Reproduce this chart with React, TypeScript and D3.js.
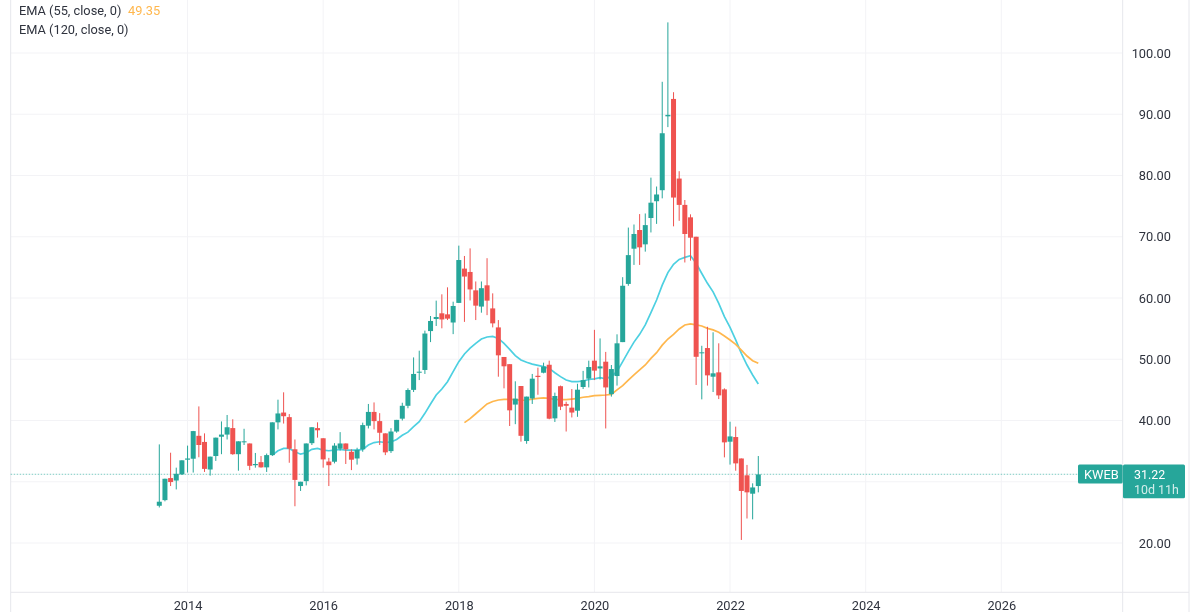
import { useEffect, useRef } from 'react'
import * as d3 from 'd3'

const WIDTH = 1200
const HEIGHT = 612

// monthly bars, first bar is Aug 2013
const firstYear = 2013
const firstMonth = 7

const opens = [
  26.08, 27.0, 30.6, 30.2, 31.2, 33.6, 33.76, 37.5, 36.5, 32.0,
  34.2, 37.35, 37.7, 38.76, 34.5, 36.45, 36.25, 32.7, 33.2, 32.35,
  34.35, 39.7, 41.3, 40.55, 35.3, 29.3, 30.1, 36.3, 38.76, 37.1,
  33.3, 33.27, 35.4, 36.25, 34.9, 33.8, 35.3, 39.15, 41.4, 39.9,
  37.9, 35.0, 38.2, 40.3, 42.4, 45.0, 47.8, 48.25, 54.6, 56.57,
  57.5, 57.33, 56.0, 59.2, 64.8, 64.25, 61.25, 58.6, 62.07, 58.3,
  55.2, 50.37, 49.2, 42.6, 45.63, 36.65, 43.6, 47.3, 47.8, 49.1,
  40.35, 45.6, 42.7, 42.1, 41.6, 45.47, 46.83, 49.77, 48.5, 49.6,
  44.3, 47.26, 52.8, 62.3, 68.05, 71.1, 68.76, 73.06, 75.8, 77.6,
  89.66, 92.5, 79.5, 75.2, 73.17, 70.0, 50.97, 51.83, 47.15, 47.86,
  45.08, 36.54, 37.3, 33.8, 31.05, 28.05, 29.3,
]
const highs = [
  36.1, 30.5, 34.74, 32.3, 33.5, 35.9, 38.3, 42.3, 37.9, 34.1,
  37.2, 39.85, 40.9, 40.2, 36.6, 38.65, 36.25, 34.7, 34.2, 34.6,
  39.7, 43.4, 44.6, 41.05, 36.9, 30.0, 36.25, 38.9, 39.7, 37.1,
  33.9, 36.3, 38.1, 36.25, 35.3, 35.55, 39.65, 42.7, 42.95, 41.2,
  37.9, 38.75, 40.1, 42.9, 45.25, 50.3, 51.4, 54.67, 57.06, 59.57,
  60.6, 61.74, 59.4, 68.55, 66.86, 68.1, 62.7, 62.7, 66.5, 60.76,
  56.4, 50.37, 49.2, 46.4, 45.63, 43.9, 47.6, 48.63, 49.44, 49.77,
  44.55, 45.7, 43.07, 45.14, 46.0, 48.1, 49.77, 54.8, 53.4, 51.2,
  49.06, 54.07, 63.4, 71.5, 72.0, 73.7, 73.8, 79.65, 78.2, 95.3,
  105.0, 93.6, 80.7, 76.0, 73.66, 70.0, 52.2, 55.3, 54.4, 52.6,
  45.25, 39.8, 39.0, 33.8, 32.75, 29.74, 34.2,
]
const lows = [
  25.8, 26.8, 29.3, 28.75, 31.1, 31.5, 31.5, 34.0, 31.6, 31.0,
  33.4, 34.5, 36.9, 34.4, 31.8, 36.0, 31.9, 32.3, 32.3, 31.6,
  34.2, 38.55, 39.5, 33.1, 26.0, 28.5, 29.4, 36.0, 37.2, 32.3,
  29.3, 33.0, 35.1, 32.9, 31.9, 32.8, 34.9, 38.7, 38.55, 36.0,
  34.35, 34.7, 38.0, 40.0, 42.0, 44.65, 46.6, 47.6, 52.8, 55.43,
  55.05, 56.4, 54.1, 59.2, 56.1, 59.6, 56.4, 57.6, 57.2, 55.2,
  47.15, 45.25, 39.1, 39.4, 36.55, 36.2, 42.7, 44.2, 47.7, 40.2,
  39.76, 41.7, 38.2, 40.5, 40.6, 45.14, 45.4, 46.6, 46.7, 38.7,
  43.9, 45.7, 52.8, 62.0, 65.4, 65.4, 67.57, 70.7, 72.1, 76.27,
  87.9, 71.7, 72.6, 65.8, 66.1, 45.8, 43.45, 45.7, 44.65, 43.5,
  33.98, 32.8, 31.8, 20.5, 24.0, 23.86, 28.27,
]
const closes = [
  26.74, 30.49, 29.95, 31.3, 33.5, 33.8, 38.27, 36.0, 32.1, 34.1,
  37.2, 37.7, 38.9, 34.5, 36.6, 36.6, 32.6, 32.9, 32.35, 34.35,
  39.7, 41.15, 40.7, 35.4, 30.3, 30.0, 36.25, 38.9, 38.4, 33.65,
  32.7, 35.9, 36.25, 35.3, 33.6, 35.2, 39.25, 41.4, 39.9, 38.0,
  34.8, 38.2, 40.1, 42.4, 44.98, 47.6, 47.97, 54.2, 56.25, 56.9,
  56.5, 56.63, 58.7, 66.2, 63.5, 61.4, 58.75, 61.6, 59.57, 55.86,
  50.64, 48.85, 41.66, 43.57, 37.5, 43.9, 46.83, 47.1, 48.8, 40.3,
  44.0, 42.26, 42.4, 41.3, 45.03, 46.6, 48.73, 48.14, 48.84, 45.4,
  48.4, 52.6, 62.0, 67.0, 70.45, 68.27, 71.9, 75.56, 76.9, 86.9,
  89.9, 76.4, 75.2, 70.45, 69.85, 50.4, 51.13, 47.37, 47.7, 44.1,
  36.43, 37.4, 33.0, 28.5, 28.27, 29.07, 31.2,
]

// orange line starts at bar 54, cyan line at bar 20
const ema55Start = 54
const ema55 = [
  39.65, 40.3, 41.1, 41.9, 42.7, 43.1, 43.35, 43.45, 43.45, 43.4,
  43.3, 43.35, 43.5, 43.6, 43.7, 43.6, 43.45, 43.4, 43.4, 43.5,
  43.6, 43.8, 43.9, 44.05, 44.1, 44.16, 44.27, 45.0, 45.7, 46.6,
  47.43, 48.25, 49.06, 50.15, 51.07, 52.3, 53.3, 54.07, 54.94, 55.6,
  55.76, 55.6, 55.43, 55.05, 54.8, 54.4, 53.8, 53.15, 52.44, 51.5,
  50.53, 49.77, 49.35,
]
const ema120Start = 20
const ema120 = [
  34.35, 35.05, 35.44, 35.44, 34.9, 34.5, 34.74, 35.3, 35.44, 35.17,
  35.06, 35.17, 35.28, 35.17, 35.17, 35.17, 35.28, 36.0, 36.4, 36.53,
  36.4, 36.5, 36.9, 37.6, 38.1, 39.0, 39.8, 41.17, 42.7, 44.16,
  45.14, 46.34, 47.97, 49.6, 50.86, 51.8, 52.6, 53.3, 53.63, 53.74,
  53.4, 52.6, 51.6, 50.6, 49.88, 49.5, 49.2, 49.0, 48.8, 48.5,
  47.8, 47.16, 46.6, 46.34, 46.34, 46.45, 46.7, 46.8, 47.0, 46.8,
  47.2, 48.0, 49.6, 51.25, 52.8, 54.07, 55.6, 57.6, 59.67, 62.1,
  64.14, 65.5, 66.3, 66.64, 66.9, 65.66, 64.0, 62.4, 61.0, 59.13,
  56.95, 55.2, 53.15, 50.97, 49.06, 47.43, 45.96,
]

const gridPrices = [20, 30, 40, 50, 60, 70, 80, 90, 100]
// 30.00 sits behind the last price label, so it is not drawn
const priceTicks = [20, 40, 50, 60, 70, 80, 90, 100]
const yearTicks = [2014, 2016, 2018, 2020, 2022, 2024, 2026]

const symbol = 'KWEB'
const lastPrice = 31.22
const countdown = '10d 11h'
const legendLabels = ['EMA (55, close, 0)', 'EMA (120, close, 0)']
const legendValue = '49.35'

const UP = '#26a69a'
const DOWN = '#ef5350'
const ORANGE = '#ffb74d'
const CYAN = '#4dd0e1'
const GRID = '#f3f3f6'
const BORDER = '#e6e7ec'
const TEXT = '#2f333e'
const FONT = 'Roboto, sans-serif'
const FONT_SIZE = 12.8
const LABEL_FONT_SIZE = 12.4

export default function App() {
  const ref = useRef<SVGSVGElement | null>(null)

  useEffect(() => {
    const svg = d3.select(ref.current)
    svg.selectAll('*').remove()

    const left = 10.7
    const right = 1122.7
    const outerRight = 1189
    const bottom = 592.3

    const xScale = d3.scaleLinear().domain([0, 106]).range([159.3, 758.3])
    const yScale = d3.scaleLinear().domain([20, 100]).range([543, 53])
    const yearX = (year: number) => xScale((year - firstYear) * 12 - firstMonth)

    // * Grid
    const grid = svg.append('g').attr('stroke', GRID).attr('stroke-width', 1)
    grid.selectAll('.h').data(gridPrices).enter().append('line')
      .attr('x1', left).attr('x2', right)
      .attr('y1', (d) => yScale(d)).attr('y2', (d) => yScale(d))
    grid.selectAll('.v').data(yearTicks).enter().append('line')
      .attr('x1', (d) => yearX(d)).attr('x2', (d) => yearX(d))
      .attr('y1', 0).attr('y2', bottom)

    // * Frame
    const frame = svg.append('g').attr('stroke', BORDER).attr('stroke-width', 1)
    frame.append('line').attr('x1', left).attr('x2', left).attr('y1', 0).attr('y2', HEIGHT)
    frame.append('line').attr('x1', right).attr('x2', right).attr('y1', 0).attr('y2', HEIGHT)
    frame.append('line').attr('x1', outerRight).attr('x2', outerRight).attr('y1', 0).attr('y2', HEIGHT)
    frame.append('line').attr('x1', left).attr('x2', outerRight).attr('y1', bottom).attr('y2', bottom)

    // * Last price line
    svg.append('line')
      .attr('x1', left).attr('x2', 1078)
      .attr('y1', yScale(lastPrice)).attr('y2', yScale(lastPrice))
      .attr('stroke', UP).attr('stroke-opacity', 0.6)
      .attr('stroke-dasharray', '1.5 1.5')

    // * EMA lines sit under the candles
    const emaLine = (start: number) =>
      d3.line<number>().x((_, i) => xScale(start + i)).y((d) => yScale(d))
    svg.append('path').attr('d', emaLine(ema120Start)(ema120))
      .attr('fill', 'none').attr('stroke', CYAN).attr('stroke-width', 1.7)
    svg.append('path').attr('d', emaLine(ema55Start)(ema55))
      .attr('fill', 'none').attr('stroke', ORANGE).attr('stroke-width', 1.7)

    // * Candles
    const bars = d3.range(opens.length)
    const color = (i: number) => (closes[i] >= opens[i] ? UP : DOWN)
    svg.append('g').selectAll('line').data(bars).enter().append('line')
      .attr('x1', (i) => xScale(i)).attr('x2', (i) => xScale(i))
      .attr('y1', (i) => yScale(highs[i])).attr('y2', (i) => yScale(lows[i]))
      .attr('stroke', color).attr('stroke-width', 1)
    svg.append('g').selectAll('rect').data(bars).enter().append('rect')
      .attr('x', (i) => xScale(i) - 2.5)
      .attr('width', 5)
      .attr('y', (i) => yScale(Math.max(opens[i], closes[i])))
      .attr('height', (i) => Math.max(1, Math.abs(yScale(opens[i]) - yScale(closes[i]))))
      .attr('fill', color)

    // * Axes
    const yAxis = svg.append('g')
      .attr('transform', `translate(1171,0)`)
      .call(d3.axisLeft(yScale).tickValues(priceTicks).tickSize(0).tickPadding(0).tickFormat((d) => d3.format('.2f')(d as number)))
    yAxis.select('.domain').remove()
    yAxis.selectAll('text').attr('fill', TEXT).attr('font-size', FONT_SIZE).attr('font-family', FONT)

    const xAxis = svg.append('g')
      .attr('transform', `translate(0,${bottom})`)
      .call(d3.axisBottom(d3.scaleLinear().domain(xScale.domain().map((d) => firstYear + (d + firstMonth) / 12)).range(xScale.range()))
        .tickValues(yearTicks).tickSize(0).tickPadding(0).tickFormat((d) => String(d)))
    xAxis.select('.domain').remove()
    xAxis.selectAll('text').attr('fill', TEXT).attr('font-size', FONT_SIZE).attr('font-family', FONT).attr('dy', 17.5).attr('y', 0)

    // * Price labels
    const labelTop = 464.5
    svg.append('rect').attr('x', 1078).attr('y', labelTop).attr('width', 44.7).attr('height', 19)
      .attr('rx', 1.5).attr('fill', UP)
    svg.append('rect').attr('x', 1123).attr('y', labelTop).attr('width', 62).attr('height', 33.8)
      .attr('rx', 1.5).attr('fill', UP)
    svg.append('text').text(symbol).attr('x', 1084).attr('y', 478.6)
      .attr('fill', '#fff').attr('font-size', FONT_SIZE).attr('font-family', FONT)
    svg.append('text').text(d3.format('.2f')(lastPrice)).attr('x', 1134).attr('y', 478.6)
      .attr('fill', '#fff').attr('font-size', LABEL_FONT_SIZE).attr('font-family', FONT)
    svg.append('text').text(countdown).attr('x', 1134).attr('y', 493.8)
      .attr('fill', '#fff').attr('fill-opacity', 0.8).attr('font-size', LABEL_FONT_SIZE).attr('font-family', FONT)

    // * Legend
    svg.selectAll('.legend').data(legendLabels).enter().append('text')
      .text((d) => d)
      .attr('x', 19)
      .attr('y', (_, i) => 15 + i * 18.5)
      .attr('fill', TEXT).attr('font-size', FONT_SIZE).attr('font-family', FONT)
    svg.append('text').text(legendValue).attr('x', 128).attr('y', 15)
      .attr('fill', ORANGE).attr('font-size', FONT_SIZE).attr('font-family', FONT)
  }, [])

  return (
    <svg
      ref={ref}
      width={WIDTH}
      height={HEIGHT}
      style={{ position: 'fixed', left: 0, top: 0, display: 'block', background: '#fff', filter: 'blur(0.4px)' }}
    />
  )
}
